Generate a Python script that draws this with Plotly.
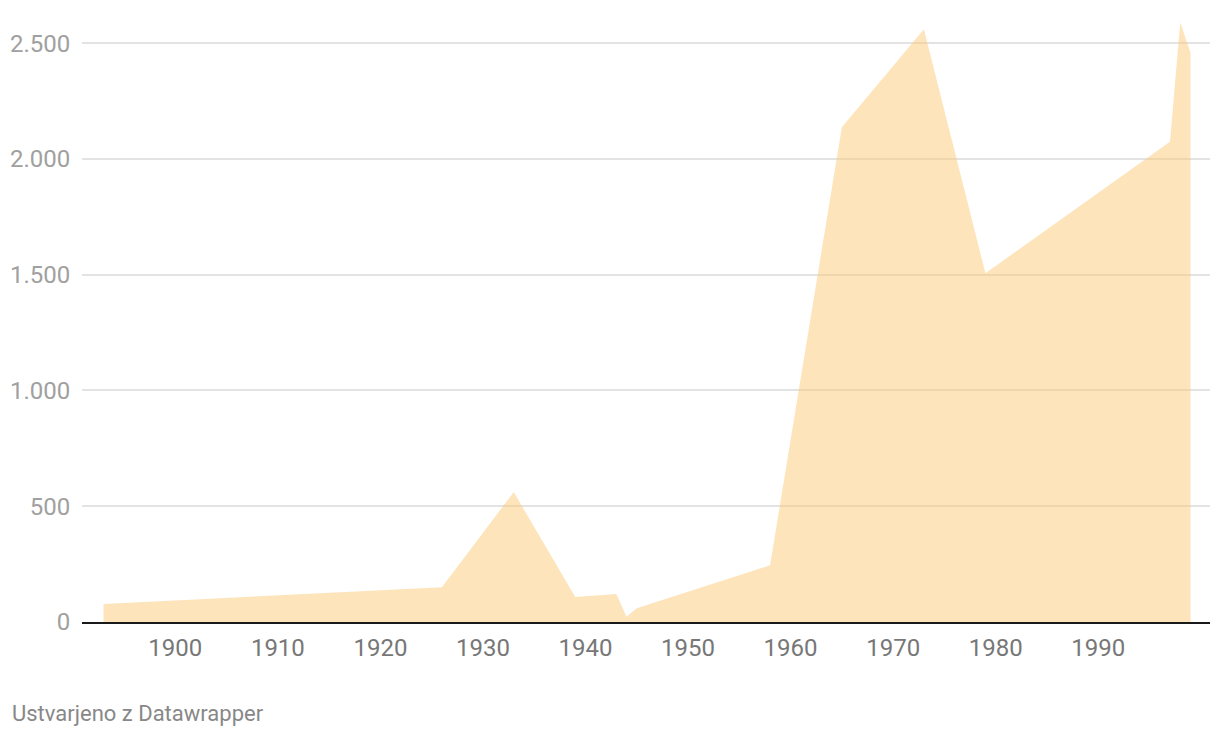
import plotly.graph_objects as go

years = [1893, 1926, 1933, 1939, 1943, 1944, 1945, 1958, 1965, 1973, 1979, 1997, 1998, 1999]
values = [78, 150, 561, 108, 121, 23, 59, 245, 2137, 2560, 1506, 2074, 2589, 2458]
x_ticks = [1900, 1910, 1920, 1930, 1940, 1950, 1960, 1970, 1980, 1990]
y_ticks = [0, 500, 1000, 1500, 2000, 2500]

fig = go.Figure()
fig.add_trace(go.Scatter(
    x=years, y=values, mode="lines", fill="tozeroy",
    line=dict(width=0, color="rgba(252,202,118,0.5)"),
    fillcolor="rgba(252,202,118,0.5)", hoverinfo="x+y", showlegend=False,
))

L, R, T, B = 74, 18, 12, 124
W, H = 1220, 738

fig.update_layout(
    width=W, height=H,
    margin=dict(l=L, r=R, t=T, b=B, autoexpand=False),
    paper_bgcolor="white", plot_bgcolor="white",
    separators=",.",
    font=dict(family="Roboto", size=24),
    xaxis=dict(
        range=[1890.9, 2000.9], tickvals=x_ticks, showgrid=False, zeroline=False,
        showline=True, linecolor="#1a1a1a", linewidth=2, automargin=False,
        ticks="outside", ticklen=3, tickcolor="rgba(0,0,0,0)",
        tickfont=dict(color="#777777", size=24),
    ),
    yaxis=dict(
        range=[0, 2600], tickvals=y_ticks, tickformat=",d", automargin=False,
        showgrid=True, gridcolor="#e3e3e3", gridwidth=1.5, zeroline=False,
        ticks="outside", ticklen=6, tickcolor="rgba(0,0,0,0)",
        tickfont=dict(color="#a0a0a0", size=24),
    ),
    annotations=[dict(
        text="Ustvarjeno z Datawrapper",
        x=(2 - L) / (W - L - R), y=(H - B - 706) / (H - T - B),
        xref="paper", yref="paper",
        showarrow=False, xanchor="left", yanchor="middle",
        font=dict(size=22, color="#888888"),
    )],
)

fig.write_html("out.html")
